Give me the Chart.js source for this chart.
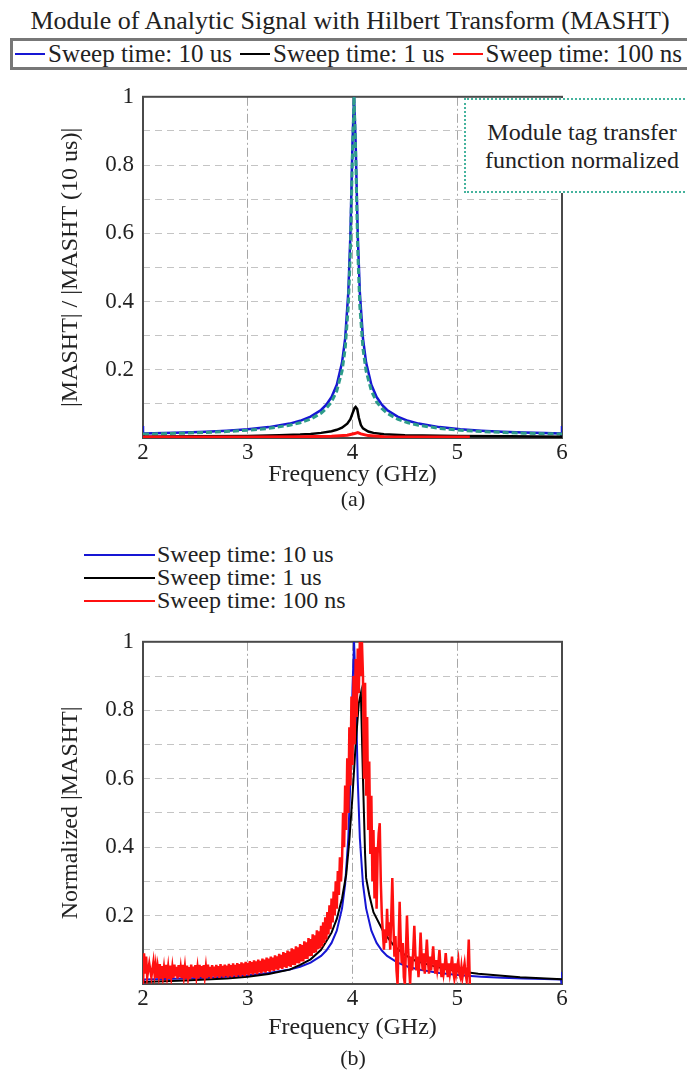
<!DOCTYPE html>
<html>
<head>
<meta charset="utf-8">
<title>MASHT</title>
<script src="https://cdn.jsdelivr.net/npm/chart.js@4.4.1/dist/chart.umd.min.js"></script>
<style>
  html, body { margin: 0; padding: 0; background: #fff; }
  body {
    width: 687px; height: 1074px; overflow: hidden; position: relative;
    font-family: "Liberation Serif", "Times New Roman", serif; color: #222;
  }
  canvas { position: absolute; left: 0; z-index: 1; }
  .txt { position: absolute; white-space: nowrap; line-height: 1; transform: translate(-50%, -50%); z-index: 2; }
  #title { font-size: 26px; }
  .caption { font-size: 22px; }
  #legendA {
    position: absolute; left: 10px; top: 38px; width: 700px; height: 32px;
    box-sizing: border-box; border: 3px solid #777; background: #fff; z-index: 2;
    display: flex; align-items: center; padding-left: 2px;
  }
  #legendA .leg-item { display: flex; align-items: center; font-size: 25px; white-space: nowrap; margin-right: 8px; }
  #legendA .leg-line { display: inline-block; width: 30px; height: 2px; margin-right: 3px; }
  #legendB { position: absolute; left: 84px; top: 543px; z-index: 2; }
  #legendB .leg-item { display: flex; align-items: center; font-size: 24px; line-height: 23px; height: 23px; white-space: nowrap; }
  #legendB .leg-line { display: inline-block; width: 71px; height: 2px; margin-right: 2px; }
  #note {
    position: absolute; left: 464px; top: 98px; width: 236px; height: 95px;
    box-sizing: border-box; border: 2px dotted #45b39d; background: #fff; z-index: 2;
    font-size: 24px; line-height: 28px; text-align: center; padding-top: 18px;
  }
</style>
</head>
<body>
<div id="title" class="txt" style="left:350px; top:21px;">Module of Analytic Signal with Hilbert Transform (MASHT)</div>
<div id="legendA"></div>
<canvas id="chartA" width="687" height="426" style="top:74px;"></canvas>
<div id="note">Module tag transfer<br>function normalized</div>
<div class="txt caption" style="left:353px; top:499px;">(a)</div>
<div id="legendB"></div>
<canvas id="chartB" width="687" height="427" style="top:619px;"></canvas>
<div class="txt caption" style="left:353px; top:1058px;">(b)</div>

<script>
// series names / colours (legend order)
const seriesNames = ["Sweep time: 10 us", "Sweep time: 1 us", "Sweep time: 100 ns"];
const seriesColors = ["#1616d4", "#000000", "#ff1010"];
const tagColor = "#2e9c8a";

// 10 us sweep, normalized (same curve in both panels)
const freqBlue = [2.0, 2.0, 2.01, 2.2, 2.4, 2.6, 2.8, 3.0, 3.2, 3.4,
  3.5, 3.6, 3.7, 3.75, 3.8, 3.85, 3.9, 3.93, 3.96, 3.98,
  4.0, 4.015, 4.03, 4.05, 4.07, 4.1, 4.13, 4.18, 4.23, 4.28,
  4.33, 4.43, 4.53, 4.63, 4.83, 5.03, 5.23, 5.43, 5.63, 5.83,
  5.99, 6.0, 6.0];
const magBlue = [0.035, -0.01, 0.0129, 0.0143, 0.0161, 0.0184, 0.0214, 0.0256, 0.0319, 0.0422,
  0.0504, 0.0625, 0.0822, 0.0977, 0.120, 0.156, 0.221, 0.292, 0.427, 0.596,
  0.866, 1.0, 0.866, 0.596, 0.427, 0.292, 0.221, 0.156, 0.120, 0.0977,
  0.0822, 0.0625, 0.0504, 0.0422, 0.0319, 0.0256, 0.0214, 0.0184, 0.0161, 0.0143,
  0.0131, -0.01, 0.035];

// module tag transfer function, normalized (panel a, dashed)
const freqTag = [2.0, 2.2, 2.4, 2.6, 2.8, 3.0, 3.2, 3.4, 3.5, 3.6,
  3.7, 3.75, 3.8, 3.85, 3.9, 3.93, 3.96, 3.98, 4.0, 4.015,
  4.03, 4.05, 4.07, 4.1, 4.13, 4.18, 4.23, 4.28, 4.33, 4.43,
  4.53, 4.63, 4.83, 5.03, 5.23, 5.43, 5.63, 5.83, 6.0];
const magTag = [0.0114, 0.0127, 0.0142, 0.0163, 0.0189, 0.0227, 0.0282, 0.0374, 0.0446, 0.0553,
  0.0728, 0.0865, 0.106, 0.138, 0.196, 0.261, 0.386, 0.549, 0.838, 1.0,
  0.838, 0.549, 0.386, 0.261, 0.196, 0.138, 0.106, 0.0865, 0.0728, 0.0553,
  0.0446, 0.0374, 0.0282, 0.0227, 0.0189, 0.0163, 0.0142, 0.0127, 0.0116];

// panel a: 1 us and 100 ns relative to 10 us
const freqBlackA = [2.0, 2.5, 3.0, 3.3, 3.5, 3.6, 3.7, 3.8, 3.85, 3.9,
  3.95, 3.98, 4.0, 4.02, 4.03, 4.045, 4.06, 4.08, 4.1, 4.15,
  4.2, 4.3, 4.5, 5.0, 5.5, 6.0];
const magBlackA = [0.004, 0.005, 0.006, 0.008, 0.010, 0.012, 0.015, 0.020, 0.024, 0.030,
  0.042, 0.055, 0.072, 0.088, 0.091, 0.085, 0.060, 0.038, 0.028, 0.019,
  0.015, 0.011, 0.008, 0.006, 0.005, 0.004];
const freqRedA = [2.0, 2.5, 3.0, 3.5, 3.8, 3.95, 4.02, 4.05, 4.08, 4.15, 4.3, 4.6, 5.0, 5.12];
const magRedA = [0.003, 0.003, 0.003, 0.004, 0.005, 0.008, 0.013, 0.016, 0.012, 0.007, 0.004, 0.003, 0.003, 0.003];

// panel b: 1 us normalized
const freqBlackB = [2.0, 2.2, 2.4, 2.6, 2.8, 3.0, 3.2, 3.4, 3.5, 3.6,
  3.7, 3.8, 3.85, 3.9, 3.94, 3.97, 4.0, 4.03, 4.06, 4.08,
  4.1, 4.12, 4.13, 4.16, 4.2, 4.3, 4.4, 4.5, 4.6, 4.8,
  5.0, 5.2, 5.4, 5.6, 5.8, 6.0];
const magBlackB = [0.006, 0.008, 0.010, 0.013, 0.016, 0.021, 0.029, 0.042, 0.056, 0.072,
  0.10, 0.15, 0.19, 0.25, 0.32, 0.42, 0.55, 0.70, 0.82, 0.85,
  0.60, 0.38, 0.31, 0.26, 0.21, 0.15, 0.11, 0.085, 0.068, 0.05,
  0.038, 0.03, 0.025, 0.02, 0.017, 0.014];

// panel b: 100 ns normalized (noisy)
const freqRedB = [2.00, 2.01, 2.02, 2.03, 2.04, 2.06, 2.08, 2.10,
  2.11, 2.12, 2.13, 2.14, 2.15, 2.16, 2.17, 2.18, 2.19, 2.20,
  2.21, 2.22, 2.23, 2.24, 2.25, 2.26, 2.27, 2.28, 2.29, 2.30,
  2.31, 2.32, 2.33, 2.34, 2.35, 2.36, 2.37, 2.38, 2.39, 2.40,
  2.41, 2.42, 2.43, 2.44, 2.45, 2.46, 2.47, 2.48, 2.49, 2.50,
  2.51, 2.52, 2.53, 2.54, 2.55, 2.56, 2.57, 2.58, 2.59, 2.60,
  2.61, 2.62, 2.63, 2.64, 2.65, 2.66, 2.67, 2.68, 2.69, 2.70,
  2.71, 2.72, 2.73, 2.74, 2.75, 2.76, 2.77, 2.78, 2.79, 2.80,
  2.81, 2.82, 2.83, 2.84, 2.85, 2.86, 2.87, 2.88, 2.89, 2.90,
  2.91, 2.92, 2.93, 2.94, 2.95, 2.96, 2.97, 2.98, 2.99, 3.00,
  3.01, 3.02, 3.03, 3.04, 3.05, 3.06, 3.07, 3.08, 3.09, 3.10,
  3.11, 3.12, 3.13, 3.14, 3.15, 3.16, 3.17, 3.18, 3.19, 3.20,
  3.21, 3.22, 3.23, 3.24, 3.25, 3.26, 3.27, 3.28, 3.29, 3.30,
  3.31, 3.32, 3.33, 3.34, 3.35, 3.36, 3.37, 3.38, 3.39, 3.40,
  3.41, 3.42, 3.43, 3.44, 3.45, 3.46, 3.47, 3.48, 3.49, 3.50,
  3.51, 3.52, 3.53, 3.54, 3.55, 3.56, 3.57, 3.58, 3.59, 3.60,
  3.61, 3.62, 3.63, 3.64, 3.65, 3.66, 3.67, 3.68, 3.69, 3.70,
  3.71, 3.72, 3.73, 3.74, 3.75, 3.76, 3.77, 3.78, 3.79, 3.80,
  3.81, 3.82, 3.83, 3.84, 3.85, 3.86, 3.87, 3.88, 3.89, 3.90,
  3.91, 3.92, 3.93, 3.94, 3.95, 3.96, 3.97, 3.98, 3.99, 4.00,
  4.01, 4.02, 4.03, 4.04, 4.05, 4.06, 4.07, 4.08, 4.09, 4.10,
  4.11, 4.12, 4.13, 4.14, 4.15, 4.16, 4.17, 4.18, 4.19, 4.20,
  4.21, 4.22, 4.23, 4.24, 4.25, 4.26, 4.27, 4.28, 4.29, 4.30,
  4.31, 4.32, 4.33, 4.34, 4.35, 4.36, 4.37, 4.38, 4.39, 4.40,
  4.41, 4.42, 4.43, 4.44, 4.45, 4.46, 4.47, 4.48, 4.49, 4.50,
  4.51, 4.52, 4.53, 4.54, 4.55, 4.56, 4.57, 4.58, 4.59, 4.60,
  4.61, 4.62, 4.63, 4.64, 4.65, 4.66, 4.67, 4.68, 4.69, 4.70,
  4.71, 4.72, 4.73, 4.74, 4.75, 4.76, 4.77, 4.78, 4.79, 4.80,
  4.81, 4.82, 4.83, 4.84, 4.85, 4.86, 4.87, 4.88, 4.89, 4.90,
  4.91, 4.92, 4.93, 4.94, 4.95, 4.96, 4.97, 4.98, 4.99, 5.00,
  5.01, 5.02, 5.03, 5.04, 5.05, 5.06, 5.07, 5.08, 5.09, 5.10,
  5.11, 5.12];
const magRedB = [0.00, 0.09, 0.03, 0.08, 0.02, 0.06, 0.02, 0.065,
  0.03, 0.055, 0.018, 0.05, 0.025, 0.058, 0.016, 0.052, 0.022, 0.048,
  0.017, 0.056, 0.024, 0.05, 0.015, 0.054, 0.021, 0.049, 0.018, 0.057,
  0.022, 0.05, 0.016, 0.055, 0.02, 0.047, 0.017, 0.056, 0.023, 0.05,
  0.016, 0.054, 0.021, 0.049, 0.015, 0.057, 0.02, 0.051, 0.018, 0.055,
  0.022, 0.048, 0.016, 0.056, 0.021, 0.052, 0.017, 0.055, 0.023, 0.05,
  0.017, 0.057, 0.021, 0.05, 0.016, 0.055, 0.022, 0.051, 0.018, 0.056,
  0.023, 0.052, 0.018, 0.058, 0.022, 0.053, 0.019, 0.057, 0.024, 0.054,
  0.019, 0.059, 0.023, 0.055, 0.02, 0.06, 0.025, 0.056, 0.021, 0.061,
  0.026, 0.058, 0.022, 0.063, 0.027, 0.06, 0.023, 0.065, 0.028, 0.062,
  0.025, 0.067, 0.03, 0.064, 0.027, 0.069, 0.032, 0.066, 0.029, 0.071,
  0.034, 0.068, 0.031, 0.074, 0.036, 0.071, 0.033, 0.077, 0.038, 0.074,
  0.035, 0.08, 0.04, 0.077, 0.038, 0.084, 0.043, 0.081, 0.041, 0.088,
  0.046, 0.085, 0.044, 0.093, 0.049, 0.09, 0.047, 0.098, 0.052, 0.095,
  0.05, 0.104, 0.056, 0.101, 0.055, 0.11, 0.061, 0.107, 0.06, 0.117,
  0.066, 0.114, 0.066, 0.125, 0.073, 0.122, 0.073, 0.134, 0.081, 0.131,
  0.082, 0.145, 0.091, 0.142, 0.092, 0.157, 0.102, 0.154, 0.104, 0.17,
  0.11, 0.18, 0.12, 0.195, 0.13, 0.21, 0.145, 0.23, 0.16, 0.25,
  0.18, 0.27, 0.2, 0.3, 0.22, 0.33, 0.26, 0.37, 0.3, 0.36,
  0.50, 0.40, 0.58, 0.45, 0.66, 0.50, 0.75, 0.58, 0.84, 0.64,
  0.90, 0.70, 0.95, 0.78, 0.98, 0.85, 1.0, 0.9, 1.0, 0.9,
  0.6, 0.88, 0.55, 0.78, 0.45, 0.65, 0.38, 0.55, 0.3, 0.45,
  0.25, 0.40, 0.22, 0.38, 0.44, 0.47, 0.3, 0.2, 0.15, 0.10,
  0.16, 0.12, 0.22, 0.14, 0.18, 0.10, 0.20, 0.31, 0.18, 0.08,
  0.14, 0.04, 0.00, 0.12, 0.24, 0.13, 0.06, 0.12, 0.02, 0.00,
  0.10, 0.20, 0.11, 0.05, 0.00, 0.08, 0.04, 0.10, 0.17, 0.09,
  0.04, 0.08, 0.02, 0.07, 0.15, 0.08, 0.04, 0.09, 0.03, 0.08,
  0.13, 0.07, 0.03, 0.08, 0.04, 0.07, 0.11, 0.06, 0.03, 0.07,
  0.04, 0.06, 0.10, 0.05, 0.02, 0.06, 0.03, 0.05, 0.09, 0.05,
  0.02, 0.06, 0.03, 0.05, 0.08, 0.04, 0.02, 0.06, 0.03, 0.05,
  0.07, 0.03, 0.02, 0.05, 0.02, 0.04, 0.06, 0.03, 0.01, 0.05,
  0.13, 0.00];

const freqTicks = [2, 3, 4, 5, 6];

Chart.defaults.font.family = '"Liberation Serif", "Times New Roman", serif';
Chart.defaults.color = '#222';

const toPoints = (xs, ys) => xs.map((x, i) => ({ x: x, y: ys[i] }));

// box around the plot area (matlab "box on")
const frameBox = {
  id: 'frameBox',
  beforeDatasetsDraw(chart) {
    const { ctx, chartArea: a } = chart;
    ctx.save();
    ctx.strokeStyle = '#4a4a4a';
    ctx.lineWidth = 2;
    ctx.strokeRect(a.left, a.top, a.right - a.left, a.bottom - a.top);
    ctx.restore();
  }
};

function yTickLabel(value) {
  const k = Math.round(value * 10);
  if (k === 10) return '1';
  if (k > 0 && k % 2 === 0) return '0.' + k;
  return '';
}

function lineSet(xs, ys, color, width, dash) {
  return {
    data: toPoints(xs, ys),
    borderColor: color,
    borderWidth: width,
    borderDash: dash || [],
    pointRadius: 0,
    tension: 0,
    fill: false
  };
}

function buildChart(canvasId, datasets, yTitle, xTitlePad) {
  const canvas = document.getElementById(canvasId);
  return new Chart(canvas.getContext('2d'), {
    type: 'line',
    data: { datasets: datasets },
    options: {
      responsive: false,
      animation: false,
      layout: { padding: { left: 52, right: 125, top: 14, bottom: 0 } },
      plugins: {
        legend: { display: false },
        tooltip: { enabled: false },
        title: { display: false }
      },
      scales: {
        x: {
          type: 'linear', min: 2, max: 6,
          afterBuildTicks: s => { s.ticks = freqTicks.map(v => ({ value: v })); },
          ticks: { padding: 1, autoSkip: false, maxRotation: 0, font: { size: 23 }, color: '#222' },
          grid: { color: '#a8a8a8', drawTicks: false },
          border: { display: false, dash: [9, 3, 2, 3] },
          title: { display: true, text: 'Frequency (GHz)', font: { size: 24 }, color: '#222', padding: { top: 0, bottom: xTitlePad } },
          afterFit: s => { s.height = 62; }
        },
        y: {
          min: 0, max: 1,
          ticks: { stepSize: 0.1, padding: 9, autoSkip: false, font: { size: 23 }, color: '#222', callback: yTickLabel },
          grid: { color: '#c4c4c4', drawTicks: false },
          border: { display: false, dash: [7, 5] },
          title: { display: true, text: yTitle, font: { size: 24 }, color: '#222', padding: { top: 4, bottom: 4 } },
          afterFit: s => { s.width = 91; }
        }
      }
    },
    plugins: [frameBox]
  });
}

function buildLegend(containerId) {
  const box = document.getElementById(containerId);
  box.innerHTML = '';
  seriesNames.forEach((name, i) => {
    const item = document.createElement('div');
    item.className = 'leg-item';
    const swatch = document.createElement('span');
    swatch.className = 'leg-line';
    swatch.style.backgroundColor = seriesColors[i];
    const label = document.createElement('span');
    label.textContent = name;
    item.appendChild(swatch);
    item.appendChild(label);
    box.appendChild(item);
  });
}

// first dataset is drawn on top
buildChart('chartA', [
  lineSet(freqRedA, magRedA, seriesColors[2], 3),
  lineSet(freqBlackA, magBlackA, seriesColors[1], 2.5),
  lineSet(freqTag, magTag, tagColor, 3, [6, 3]),
  lineSet(freqBlue, magBlue, seriesColors[0], 2.5)
], '|MASHT| / |MASHT (10 us)|', 11);

buildChart('chartB', [
  lineSet(freqRedB, magRedB, seriesColors[2], 2.5),
  lineSet(freqBlackB, magBlackB, seriesColors[1], 2),
  lineSet(freqBlue, magBlue, seriesColors[0], 2)
], 'Normalized |MASHT|', 4);

buildLegend('legendA');
buildLegend('legendB');
</script>
</body>
</html>
